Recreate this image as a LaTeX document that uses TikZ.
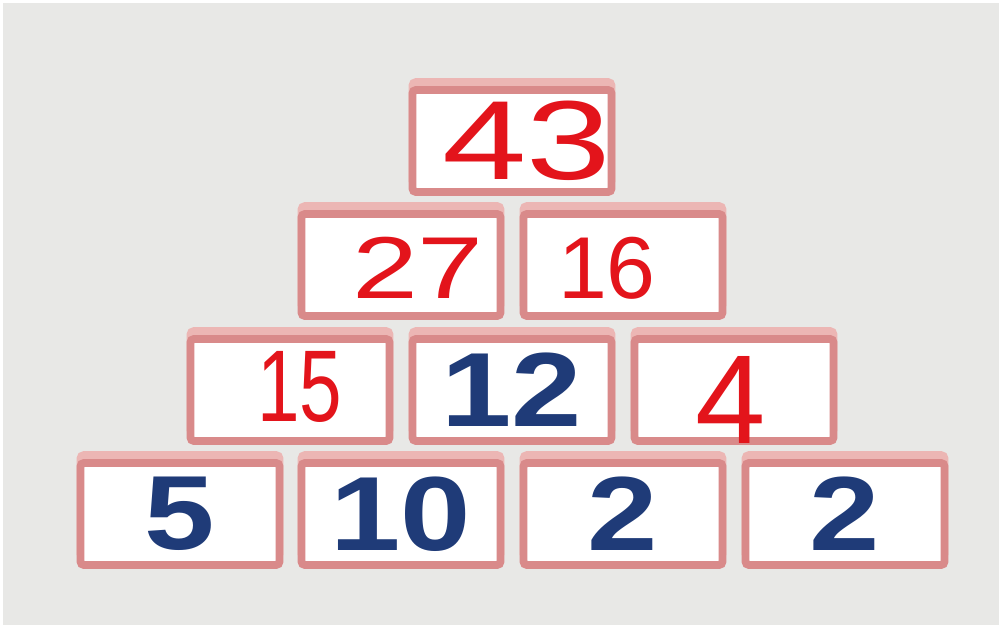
\documentclass[tikz,border=0pt]{standalone}
\usepackage{fontspec}
\setmainfont{Liberation Sans}
\newfontfamily\printfont[FakeStretch=1.2]{Liberation Sans}
\newfontfamily\penwide[FakeStretch=1.35]{Liberation Sans}
\newfontfamily\pennarrow[FakeStretch=0.75]{Liberation Sans}
\usetikzlibrary{positioning}

\definecolor{bgGray}{HTML}{E8E8E6}
\definecolor{brickLine}{HTML}{D98A8A}
\definecolor{brickPale}{HTML}{ECB6B4}
\definecolor{printNavy}{HTML}{1F3B78}
\definecolor{penRed}{HTML}{E3141B}

\tikzset{
  brick/.style={draw=brickLine, line width=4.5pt, fill=white, rounded corners=2pt,
    minimum width=3.98cm, minimum height=2.04cm, inner sep=0pt,
    preaction={draw=brickPale, line width=4.5pt, transform canvas={yshift=4.5pt}}},
  printed/.style={text=printNavy, font=\printfont\fontsize{60}{64}\selectfont\bfseries},
  penned/.style={text=penRed, inner sep=0pt}
}

\begin{document}
\begin{tikzpicture}[x=0.02cm, y=-0.02cm]
        % Nền
        \fill[white] (0,0) rectangle (1002,628);
        \fill[bgGray] (3,3) rectangle (999,625);
        \useasboundingbox (0,0) rectangle (1002,628);

        % Hàng dưới cùng
        \node[brick, printed] (b5)  at (180,514) {5};
        \node[brick, printed] (b10) at (401,514) {10};
        \node[brick, printed] (b2a) at (623,514) {2};
        \node[brick, printed] (b2b) at (845,514) {2};

        % Hàng thứ ba
        \node[brick] (b15) at (290,390) {};
        \node[brick, printed] (b12) at (512,390) {12};
        \node[brick] (b4)  at (734,390) {};

        % Hàng thứ hai
        \node[brick] (b27) at (401,265) {};
        \node[brick] (b16) at (623,265) {};

        % Đỉnh
        \node[brick] (b43) at (512,141) {};

        % Số viết tay (màu đỏ)
        \node[penned, font=\penwide\fontsize{64}{68}\selectfont] (t43) at ([xshift=0.3cm]b43.center) {43};
        \node[penned, font=\penwide\fontsize{50}{54}\selectfont] (t27) at ([xshift=0.34cm, yshift=-0.06cm]b27.center) {27};
        \node[penned, font=\fontsize{50}{54}\selectfont] (t16) at ([xshift=-0.32cm, yshift=-0.06cm]b16.center) {16};
        \node[penned, font=\pennarrow\fontsize{58}{62}\selectfont] (t15) at ([xshift=0.2cm, yshift=0.06cm]b15.center) {15};
        \node[penned, font=\fontsize{72}{76}\selectfont] (t4)  at ([xshift=-0.06cm, yshift=-0.2cm]b4.center) {4};
      \end{tikzpicture}
\end{document}
